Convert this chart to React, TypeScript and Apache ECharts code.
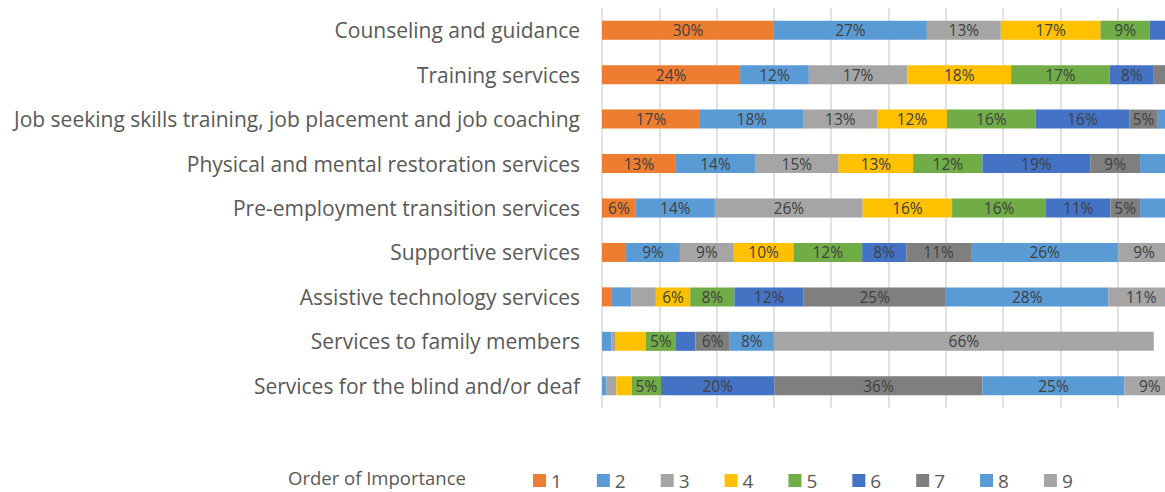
import React, { useEffect, useRef } from "react";
import * as echarts from "echarts";

const categories = [
  "Counseling and guidance",
  "Training services",
  "Job seeking skills training, job placement and job coaching",
  "Physical and mental restoration services",
  "Pre-employment transition services",
  "Supportive services",
  "Assistive technology services",
  "Services to family members",
  "Services for the blind and/or deaf",
];

const seriesNames = ["1", "2", "3", "4", "5", "6", "7", "8", "9"];
const seriesColors = ["#ED7D31", "#5B9BD5", "#A5A5A5", "#FFC000", "#70AD47", "#4472C4", "#7F7F7F", "#5B9BD5", "#A5A5A5"];

// percentage of respondents per rank, one array per rank (order of categories above)
const order1 = [30, 24.1, 17.1, 12.9, 5.9, 4.2, 1.6, 0, 0];
const order2 = [26.7, 12.0, 18.1, 13.8, 13.8, 9.4, 3.5, 1.6, 0.8];
const order3 = [12.9, 17.2, 12.8, 14.6, 25.8, 9.4, 4.3, 0.8, 1.7];
const order4 = [17.4, 18.1, 12.2, 13.0, 15.6, 10.4, 6.0, 5.2, 2.7];
const order5 = [8.6, 17.2, 15.5, 12.1, 16.4, 12.0, 7.7, 5.3, 5.1];
const order6 = [3, 7.7, 16.3, 18.8, 11.2, 7.7, 12.1, 3.4, 19.8];
const order7 = [1, 2, 5, 8.7, 5.2, 11.3, 24.8, 6.0, 36.3];
const order8 = [0.5, 1, 2, 4.5, 4.5, 25.7, 28.4, 7.7, 24.8];
const order9 = [0, 0.7, 1, 0.7, 1.6, 9.0, 11.4, 66.3, 9.0];
const seriesValues = [order1, order2, order3, order4, order5, order6, order7, order8, order9];

// labels removed in the original chart: [category index, rank index]
const hiddenLabels = [[7, 3]];

const xTicks = { min: 0, max: 100, interval: 10 };

const FONT = "Open Sans";

export default function App() {
  const ref = useRef<HTMLDivElement>(null);
  useEffect(() => {
    if (!ref.current) return;
    const chart = echarts.init(ref.current, null, { renderer: "svg" });
    const series = seriesNames.map((name, si) => ({
      name,
      type: "bar",
      stack: "total",
      barWidth: 19,
      itemStyle: { color: seriesColors[si] },
      label: {
        show: true,
        position: "inside",
        color: "#404040",
        fontSize: 15.5,
        fontFamily: FONT,
        formatter: (p: any) => Math.round(p.value) + "%",
      },
      data: seriesValues[si].map((v, ci) => {
        const hidden = v < 5 || hiddenLabels.some(([c, s]) => c === ci && s === si);
        return hidden ? { value: v, label: { show: false } } : v;
      }),
    }));
    chart.setOption({
      animation: false,
      backgroundColor: "#ffffff",
      textStyle: { fontFamily: FONT },
      title: {
        text: "Order of Importance",
        left: 283,
        top: 463,
        textStyle: { fontSize: 18.5, fontWeight: "normal", color: "#595959", fontFamily: FONT },
      },
      legend: {
        left: 533,
        top: 471,
        padding: 0,
        icon: "rect",
        itemWidth: 13,
        itemHeight: 13,
        itemGap: 35,
        itemStyle: { borderWidth: 0 },
        textStyle: { fontSize: 19, color: "#595959", fontFamily: FONT },
        data: seriesNames,
      },
      grid: { left: 602, right: 25, top: 8, bottom: 84 },
      xAxis: {
        type: "value",
        min: xTicks.min,
        max: xTicks.max,
        interval: xTicks.interval,
        axisLabel: { show: false },
        axisLine: { show: false },
        axisTick: { show: false },
        splitLine: { show: true, lineStyle: { color: "#D9D9D9", width: 1.5 } },
      },
      yAxis: {
        type: "category",
        inverse: true,
        data: categories,
        axisLine: { show: false },
        axisTick: { show: false },
        axisLabel: { fontSize: 21, color: "#595959", margin: 22, fontFamily: FONT },
      },
      series,
    });
    return () => chart.dispose();
  }, []);
  return (
    <div style={{ position: "fixed", left: 0, top: 0, width: 1165, height: 492, overflow: "hidden", background: "#fff" }}>
      <div ref={ref} style={{ width: 1200, height: 492 }} />
    </div>
  );
}
